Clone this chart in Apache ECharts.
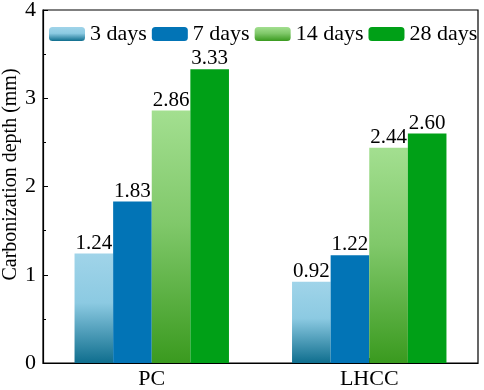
<!DOCTYPE html>
<html>
<head>
<meta charset="utf-8">
<script src="https://cdn.jsdelivr.net/npm/echarts@6/dist/echarts.min.js"></script>
<style>
  html, body { margin: 0; padding: 0; background: #fff; }
  #main { width: 484px; height: 390px; }
</style>
</head>
<body>
<div id="main"></div>
<script>
var categories = ['PC', 'LHCC'];
var seriesNames = ['3 days', '7 days', '14 days', '28 days'];
var days3 = [1.24, 0.92];
var days7 = [1.83, 1.22];
var days14 = [2.86, 2.44];
var days28 = [3.33, 2.60];
var yTicks = [0, 1, 2, 3, 4];

var font = '"Liberation Serif", "Times New Roman", serif';

function grad(top, mid, bottom) {
  return new echarts.graphic.LinearGradient(0, 0, 0, 1, [
    { offset: 0, color: top },
    { offset: 0.45, color: mid },
    { offset: 1, color: bottom }
  ]);
}

var colors = [
  grad('#a0d4e9', '#8ccae2', '#0f6e8e'),
  '#0274b6',
  grad('#a3df90', '#80c86a', '#3a9a1f'),
  '#00a017'
];

var chartDom = document.getElementById('main');
var myChart = echarts.init(chartDom);

function makeSeries(name, data, color) {
  return {
    name: name,
    type: 'bar',
    data: data,
    barGap: '0%',
    barCategoryGap: '29%',
    itemStyle: { color: color },
    label: {
      show: true,
      position: 'top',
      distance: 0,
      fontFamily: font,
      fontSize: 21,
      color: '#000',
      formatter: function (p) { return p.value.toFixed(2); }
    }
  };
}

var option = {
  backgroundColor: '#fff',
  animation: false,
  grid: {
    left: 43,
    right: 6,
    top: 10,
    bottom: 27,
    outerBoundsMode: 'none',
    show: true,
    borderColor: '#000',
    borderWidth: 1.2
  },
  legend: {
    top: 18,
    left: 44,
    width: 438,
    itemWidth: 36,
    itemHeight: 14,
    itemGap: 5,
    itemStyle: { borderWidth: 0 },
    textStyle: { fontFamily: font, fontSize: 22, color: '#000' },
    data: seriesNames
  },
  xAxis: {
    type: 'category',
    data: categories,
    axisLine: { lineStyle: { color: '#000', width: 1.2 } },
    axisTick: { show: true, inside: true, alignWithLabel: true, length: 5, lineStyle: { color: '#000' } },
    axisLabel: { fontFamily: font, fontSize: 22, color: '#000', margin: 5 }
  },
  yAxis: {
    type: 'value',
    min: yTicks[0],
    max: yTicks[yTicks.length - 1],
    interval: 1,
    name: 'Carbonization depth (mm)',
    nameLocation: 'middle',
    nameGap: 22,
    nameMoveOverlap: false,
    nameTextStyle: { fontFamily: font, fontSize: 20, color: '#000', padding: [0, 0, 0, 24] },
    axisLine: { show: true, lineStyle: { color: '#000', width: 1.2 } },
    axisTick: { show: true, inside: true, length: 5, lineStyle: { color: '#000' } },
    minorTick: { show: true, splitNumber: 2, length: 3, lineStyle: { color: '#000' } },
    splitLine: { show: false },
    axisLabel: { fontFamily: font, fontSize: 22, color: '#000', margin: 7 }
  },
  series: [
    makeSeries(seriesNames[0], days3, colors[0]),
    makeSeries(seriesNames[1], days7, colors[1]),
    makeSeries(seriesNames[2], days14, colors[2]),
    makeSeries(seriesNames[3], days28, colors[3])
  ]
};

myChart.setOption(option);
</script>
</body>
</html>
